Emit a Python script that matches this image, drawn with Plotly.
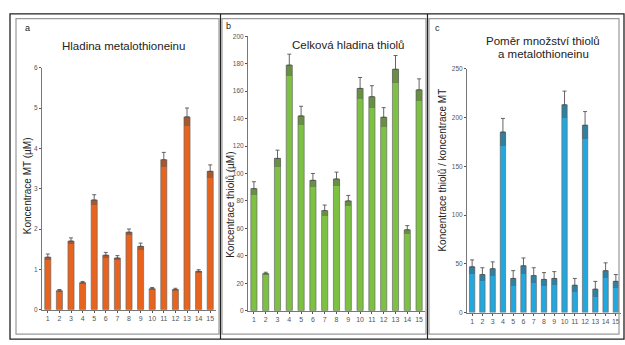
import plotly.graph_objects as go

categories = list(range(1, 16))
tick_labels = [str(c) for c in categories]

mt_values = [1.30, 0.47, 1.70, 0.67, 2.72, 1.35, 1.28, 1.92, 1.57, 0.52, 3.72, 0.50, 4.78, 0.95, 3.43]
mt_errors = [0.08, 0.03, 0.08, 0.03, 0.13, 0.07, 0.06, 0.08, 0.08, 0.03, 0.18, 0.03, 0.22, 0.04, 0.16]

thiol_values = [89, 27, 111, 179, 142, 95, 73, 96, 80, 162, 156, 141, 176, 59, 161]
thiol_errors = [5, 1, 6, 8, 7, 5, 4, 5, 4, 8, 8, 7, 10, 3, 8]

ratio_values = [47, 39, 45, 185, 35, 48, 38, 34, 35, 213, 28, 192, 24, 43, 32]
ratio_errors = [7, 7, 7, 14, 8, 8, 8, 7, 7, 14, 7, 14, 8, 8, 7]

FONT = "Liberation Sans, Arial, sans-serif"

panels = [
    dict(vals=mt_values, errs=mt_errors, color="#E8641E", xa="x", ya="y"),
    dict(vals=thiol_values, errs=thiol_errors, color="#7DC142", xa="x2", ya="y2"),
    dict(vals=ratio_values, errs=ratio_errors, color="#22A8DE", xa="x3", ya="y3"),
]

fig = go.Figure()
for p in panels:
    fig.add_trace(go.Bar(
        x=categories, y=p["vals"], xaxis=p["xa"], yaxis=p["ya"], width=0.52,
        marker=dict(color=p["color"], line=dict(color="#6a6a6a", width=0.7)),
        error_y=dict(type="data", array=p["errs"], arrayminus=[0] * 15, symmetric=False,
                     color="#555555", thickness=0.9, width=2),
        hoverinfo="skip",
    ))
    fig.add_trace(go.Bar(
        x=categories, y=p["errs"], base=[v - e for v, e in zip(p["vals"], p["errs"])],
        xaxis=p["xa"], yaxis=p["ya"], width=0.52,
        marker=dict(color="rgba(70,70,70,0.4)", line=dict(width=0)),
        hoverinfo="skip",
    ))

W, H = 625, 345
def fx(px): return px / W
def fy(py): return 1 - py / H

axis_common = dict(showgrid=False, zeroline=False, showline=True, linecolor="#777777",
                   linewidth=1, ticks="outside", ticklen=2, tickcolor="#555555",
                   tickfont=dict(family=FONT, size=6.5, color="#555555"), fixedrange=True)

xcommon = dict(axis_common, tickmode="array", tickvals=categories, ticktext=tick_labels,
               range=[0.5, 15.5], tickfont=dict(family=FONT, size=7, color="#555555"))

fig.update_layout(
    width=W, height=H, margin=dict(l=0, r=0, t=0, b=0),
    paper_bgcolor="white", plot_bgcolor="rgba(0,0,0,0)", showlegend=False,
    barmode="overlay", bargap=0,
    xaxis=dict(xcommon, domain=[fx(42), fx(216)], anchor="y"),
    yaxis=dict(axis_common, domain=[fy(312), fy(65)], range=[0, 6], tickvals=[0, 1, 2, 3, 4, 5, 6], anchor="x"),
    xaxis2=dict(xcommon, domain=[fx(248), fx(425)], anchor="y2"),
    yaxis2=dict(axis_common, domain=[fy(313), fy(33)], range=[0, 200], tickvals=list(range(0, 201, 20)), anchor="x2"),
    xaxis3=dict(xcommon, domain=[fx(467), fx(621)], anchor="y3"),
    yaxis3=dict(axis_common, domain=[fy(315), fy(66)], range=[0, 250], tickvals=list(range(0, 251, 50)), anchor="x3"),
)

shapes = []
shapes.append(dict(type="rect", xref="paper", yref="paper", x0=fx(10), x1=fx(624), y0=fy(342), y1=fy(10),
                   line=dict(color="#222222", width=1.3)))
for x0, x1 in [(16, 219), (222, 426), (429, 619)]:
    shapes.append(dict(type="rect", xref="paper", yref="paper", x0=fx(x0), x1=fx(x1), y0=fy(337), y1=fy(15),
                       line=dict(color="#9a9a9a", width=1.2)))
for xd in [220.5, 427.5]:
    shapes.append(dict(type="line", xref="paper", yref="paper", x0=fx(xd), x1=fx(xd), y0=fy(342), y1=fy(10),
                       line=dict(color="#222222", width=1.2)))
fig.update_layout(shapes=shapes)

ann = []
def text(x, y, s, size, color="#222222", angle=0, xanchor="center"):
    ann.append(dict(xref="paper", yref="paper", x=fx(x), y=fy(y), text=s, showarrow=False,
                    xanchor=xanchor, yanchor="middle", textangle=angle,
                    font=dict(family=FONT, size=size, color=color)))

text(23, 24, "a", 9, xanchor="left")
text(224, 22, "b", 9, xanchor="left")
text(433, 24, "c", 9, xanchor="left")
text(123, 43, "Hladina metalothioneinu", 11.5)
text(348, 42, "Celková hladina thiolů", 11.5)
text(543, 38, "Poměr množství thiolů", 11.5)
text(543, 51, "a metalothioneinu", 11.5)
text(27, 186, "Koncentrace MT (µM)", 10, angle=-90)
text(231, 205, "Koncentrace thiolů (µM)", 10, angle=-90)
text(443, 170, "Koncentrace thiolů / koncentrace MT", 10, angle=-90)
fig.update_layout(annotations=ann)

fig.write_html("out.html", config={"displayModeBar": False, "staticPlot": True},
               post_script="document.body.style.margin='0';document.body.style.padding='0';")
